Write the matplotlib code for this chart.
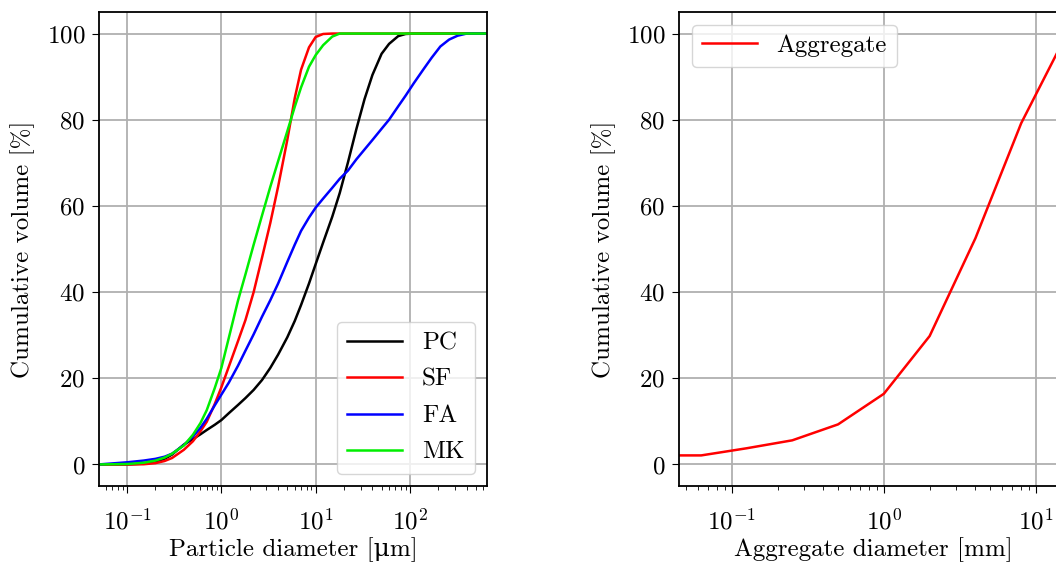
import matplotlib
matplotlib.use("Agg")
import matplotlib.pyplot as plt

plt.rcParams['font.family'] = ['cmr10', 'DejaVu Serif']
plt.rcParams['mathtext.fontset'] = 'cm'
plt.rcParams['axes.formatter.use_mathtext'] = True
plt.rcParams['font.size'] = 18

# Particle size distributions (left), diameters in micrometres
diam = [0.05, 0.1, 0.15, 0.2, 0.25, 0.3, 0.4, 0.5, 0.6, 0.7, 0.85, 1, 1.2, 1.5,
        1.8, 2.2, 2.7, 3.3, 4, 5, 6, 7, 8.5, 10, 12, 15, 18, 22, 27, 33, 40,
        50, 60, 75, 90, 110, 140, 170, 210, 260, 320, 400, 650]
pc = [0, 0, 0.2, 0.6, 1.3, 2.3, 4.6, 5.9, 7.0, 8.0, 9.2, 10.3, 11.9, 13.8,
      15.4, 17.3, 19.6, 22.4, 25.5, 29.5, 33.3, 37, 42, 46.5, 51.5, 57.5, 63,
      70.1, 77.8, 84.8, 90.4, 95.3, 97.6, 99.4, 99.9, 100, 100, 100, 100, 100,
      100, 100, 100]
sf = [0, 0, 0.05, 0.3, 0.8, 1.5, 3.4, 5.4, 7.7, 9.9, 14, 17.9, 22.7, 28.6,
      33.5, 40, 48, 56, 64.5, 75.3, 85, 91.6, 96.8, 99.2, 99.9, 100, 100,
      100, 100, 100, 100, 100, 100, 100, 100, 100, 100, 100, 100, 100, 100,
      100, 100]
fa = [0, 0.5, 0.9, 1.3, 1.8, 2.5, 4.5, 6.5, 8.5, 10.6, 13.7, 16.2, 19, 22.9,
      26.4, 30.2, 34.3, 38.1, 42, 47, 51, 54.2, 57.3, 59.6, 61.7, 64.2, 66.3,
      68.2, 70.8, 73.1, 75.3, 77.9, 80, 83.1, 85.6, 88.5, 91.8, 94.4, 97,
      98.6, 99.5, 100, 100]
mk = [0, 0.1, 0.4, 0.9, 1.6, 2.5, 4.4, 6.9, 9.6, 12.6, 17.7, 22.4, 29.4, 38,
      44.1, 51, 57.8, 64.4, 70.4, 77.3, 83, 87.5, 92.3, 95, 97.3, 99.3, 100,
      100, 100, 100, 100, 100, 100, 100, 100, 100, 100, 100, 100, 100, 100,
      100, 100]
series = [("PC", pc, "black"), ("SF", sf, "red"), ("FA", fa, "blue"), ("MK", mk, "#00ee00")]

# Aggregate grading (right), diameters in millimetres
agg_d = [0.045, 0.063, 0.125, 0.25, 0.5, 1, 2, 4, 8, 16]
agg_v = [2.1, 2.1, 3.75, 5.6, 9.3, 16.4, 29.8, 52.5, 79.2, 100]

W, H = 1056, 565
fig = plt.figure(figsize=(W / 100, H / 100), dpi=100)
ax1 = fig.add_axes([99 / W, (H - 486) / H, 388 / W, 474 / H])
ax2 = fig.add_axes([679 / W, (H - 486) / H, 388 / W, 474 / H])

for name, vals, c in series:
    ax1.plot(diam, vals, color=c, lw=1.8, label=name)
ax1.set_xscale('log')
ax1.set_xlim(0.0504, 656)
ax1.set_ylim(-5, 105)
ax1.set_xlabel('Particle diameter [μm]', labelpad=2)
ax1.set_ylabel('Cumulative volume [%]', labelpad=8)
ax1.legend(loc='lower right', handlelength=2.2, labelspacing=0.55)

ax2.plot(agg_d, agg_v, color='red', lw=1.8, label='Aggregate')
ax2.set_xscale('log')
ax2.set_xlim(0.045, 16)
ax2.set_ylim(-5, 105)
ax2.set_xlabel('Aggregate diameter [mm]', labelpad=2)
ax2.set_ylabel('Cumulative volume [%]', labelpad=8)
ax2.legend(loc='upper left', handlelength=2.2)

for ax in (ax1, ax2):
    ax.grid(True, which='major', color='#b0b0b0', lw=1.3)
    ax.set_axisbelow(True)
    for s in ax.spines.values():
        s.set_linewidth(1.3)
    ax.set_yticks([0, 20, 40, 60, 80, 100])
    ax.tick_params(axis='x', which='major', pad=11, length=5)
    ax.tick_params(axis='x', which='minor', length=3)
    ax.tick_params(axis='y', which='major', pad=5, length=5)

fig.savefig('out.png', dpi=100)
